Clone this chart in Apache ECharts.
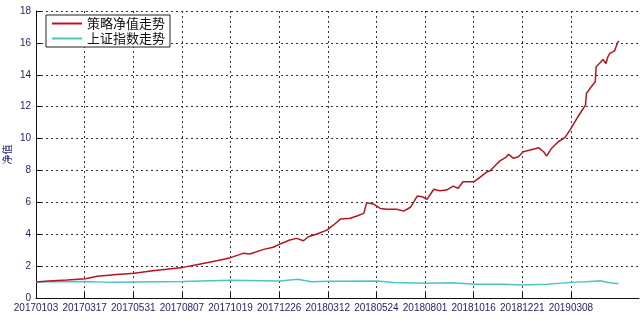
<!DOCTYPE html>
<html><head><meta charset="utf-8">
<script src="https://cdn.jsdelivr.net/npm/echarts@6/dist/echarts.min.js"></script>
<style>html,body{margin:0;padding:0;background:#fff}#c{width:640px;height:323px}</style>
</head><body><div id="c"></div>
<script>
// trading-day index ticks and their date labels
var tickLabels = ['20170103','20170317','20170531','20170807','20171019','20171226','20180312','20180524','20180801','20181016','20181221','20190308'];
var tickStep = 50;
var axisLength = 621;

// strategy net value (trading-day index, value)
var stratDays = [0,13,32,51,63,83,101,120,151,169,186,200,213,220,234,244,251,261,268,275,280,289,299,306,313,323,330,337,340,347,354,361,371,378,385,392,397,402,409,415,422,429,434,439,450,455,464,467,472,477,483,486,491,496,501,508,517,522,525,530,537,544,549,554,559,565,566,571,575,576,580,583,586,588,590,595,597,599];
var stratVals = [1.00,1.06,1.13,1.21,1.36,1.48,1.55,1.71,1.92,2.13,2.34,2.53,2.80,2.76,3.05,3.18,3.39,3.64,3.74,3.59,3.84,4.01,4.26,4.58,4.95,5.00,5.14,5.31,5.98,5.89,5.62,5.56,5.56,5.45,5.69,6.39,6.35,6.19,6.82,6.73,6.77,7.02,6.88,7.29,7.29,7.50,7.92,7.98,8.30,8.60,8.82,9.01,8.76,8.86,9.17,9.28,9.42,9.17,8.90,9.38,9.80,10.07,10.53,11.05,11.54,12.10,12.83,13.25,13.56,14.50,14.75,14.96,14.71,15.13,15.34,15.50,15.86,16.13];

// Shanghai composite normalised (trading-day index, value)
var indexDays = [0,13,51,77,101,151,200,251,269,283,302,351,367,401,429,451,480,500,525,550,566,580,590,599];
var indexVals = [1.00,1.02,1.04,0.98,1.00,1.04,1.11,1.07,1.17,1.02,1.05,1.07,0.97,0.92,0.96,0.86,0.86,0.82,0.86,0.98,1.02,1.08,0.96,0.90];

var yMin = 0, yMax = 18, yStep = 2;
var seriesNames = ['策略净值走势','上证指数走势'];
var yName = '净值';

var cats = [];
for (var i = 0; i < axisLength; i++) cats.push(String(i));
function pairs(d, v){ return d.map(function(x,i){ return [x, v[i]]; }); }
function isTick(i){ return i % tickStep === 0 && i / tickStep < tickLabels.length; }

var navy = '#1e1e66';
var grid = {type:[2,3], color:'#333', width:1};
var chart = echarts.init(document.getElementById('c'));
chart.setOption({
  animation:false,
  backgroundColor:'#fff',
  grid:{left:36, right:1, top:11, bottom:25, containLabel:false, outerBoundsMode:'none'},
  legend:{
    data:seriesNames, orient:'vertical', left:46, top:15,
    icon:'rect', itemWidth:30, itemHeight:2, itemGap:2,
    padding:[2,5,2,6], borderColor:'#222', borderWidth:1, backgroundColor:'#fff',
    textStyle:{fontFamily:'Noto Sans CJK SC', fontSize:13, color:'#111'}
  },
  xAxis:{
    type:'category', data:cats, boundaryGap:false,
    axisLine:{lineStyle:{color:'#111', width:1}},
    axisTick:{inside:true, length:5, interval:function(i){return isTick(i);}, lineStyle:{color:'#111'}},
    axisLabel:{interval:function(i){return isTick(i);}, formatter:function(v){var i=+v; return isTick(i)?tickLabels[i/tickStep]:'';}, color:navy, fontFamily:'Liberation Sans', fontSize:10, margin:5},
    splitLine:{show:true, interval:function(i){return isTick(i) && i>0;}, lineStyle:grid}
  },
  yAxis:{
    type:'value', min:yMin, max:yMax, interval:yStep,
    name:yName, nameLocation:'middle', nameRotate:90, nameGap:24, nameMoveOverlap:false,
    nameTextStyle:{color:navy, fontSize:10, fontFamily:'Noto Sans CJK SC'},
    axisLine:{show:true, lineStyle:{color:'#111', width:1}},
    axisTick:{show:true, inside:true, length:5, lineStyle:{color:'#111'}},
    axisLabel:{color:navy, fontFamily:'Liberation Sans', fontSize:10, margin:5},
    splitLine:{show:true, lineStyle:grid}
  },
  series:[
    {name:seriesNames[1], type:'line', data:pairs(indexDays,indexVals), showSymbol:false, symbol:'none', lineStyle:{color:'#4cc4c6', width:1.5}, itemStyle:{color:'#4cc4c6'}, z:2},
    {name:seriesNames[0], type:'line', data:pairs(stratDays,stratVals), showSymbol:false, symbol:'none', lineStyle:{color:'#b81420', width:1.5}, itemStyle:{color:'#b81420'}, z:3}
  ]
});
</script></body></html>
